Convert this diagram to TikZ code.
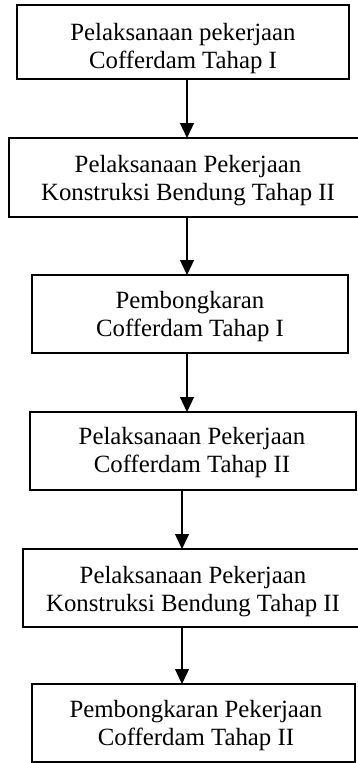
\documentclass[tikz,border=0pt]{standalone}
\usepackage{fontspec}
\setmainfont{Liberation Serif}
\usetikzlibrary{arrows.meta}
\begin{document}
\begin{tikzpicture}[x=1pt,y=-1pt,
  stepbox/.style={draw=black,line width=1.6pt,inner sep=0pt,outer sep=0pt,fill=none},
  txt/.style={anchor=base,inner sep=0pt,font=\fontsize{24.8}{28}\selectfont},
  arr/.style={line width=1.3pt,-{Triangle[length=15pt,width=14pt]}}]
\useasboundingbox (0,0) rectangle (358,763);
% boxes
\node[stepbox,minimum width=332pt,minimum height=74pt] (b1) at (183,42) {};
\node[stepbox,minimum width=353pt,minimum height=79pt] (b2) at (185.5,177.5) {};
\node[stepbox,minimum width=316pt,minimum height=78pt] (b3) at (190,314) {};
\node[stepbox,minimum width=326pt,minimum height=78pt] (b4) at (193,451) {};
\node[stepbox,minimum width=339pt,minimum height=78pt] (b5) at (192.5,588) {};
\node[stepbox,minimum width=323pt,minimum height=78pt] (b6) at (193.5,723) {};
% texts
\node[txt] (t1a) at (183,40) {Pelaksanaan pekerjaan};
\node[txt] (t1b) at (183,68) {Cofferdam Tahap I};
\node[txt] (t2a) at (188,172) {Pelaksanaan Pekerjaan};
\node[txt] (t2b) at (188,200) {Konstruksi Bendung Tahap II};
\node[txt] (t3a) at (190,308) {Pembongkaran};
\node[txt] (t3b) at (190,336) {Cofferdam Tahap I};
\node[txt] (t4a) at (192,444) {Pelaksanaan Pekerjaan};
\node[txt] (t4b) at (192,472) {Cofferdam Tahap II};
\node[txt] (t5a) at (193,583) {Pelaksanaan Pekerjaan};
\node[txt] (t5b) at (193,611) {Konstruksi Bendung Tahap II};
\node[txt] (t6a) at (196,717) {Pembongkaran Pekerjaan};
\node[txt] (t6b) at (196,745) {Cofferdam Tahap II};
% arrow columns
\coordinate (c1) at (187,0);
\coordinate (c2) at (182,0);
\draw[arr] (b1.south -| c1) -- (b2.north -| c1);
\draw[arr] (b2.south -| c1) -- (b3.north -| c1);
\draw[arr] (b3.south -| c1) -- (b4.north -| c1);
\draw[arr] (b4.south -| c2) -- (b5.north -| c2);
\draw[arr] (b5.south -| c2) -- (b6.north -| c2);
\end{tikzpicture}
\end{document}
